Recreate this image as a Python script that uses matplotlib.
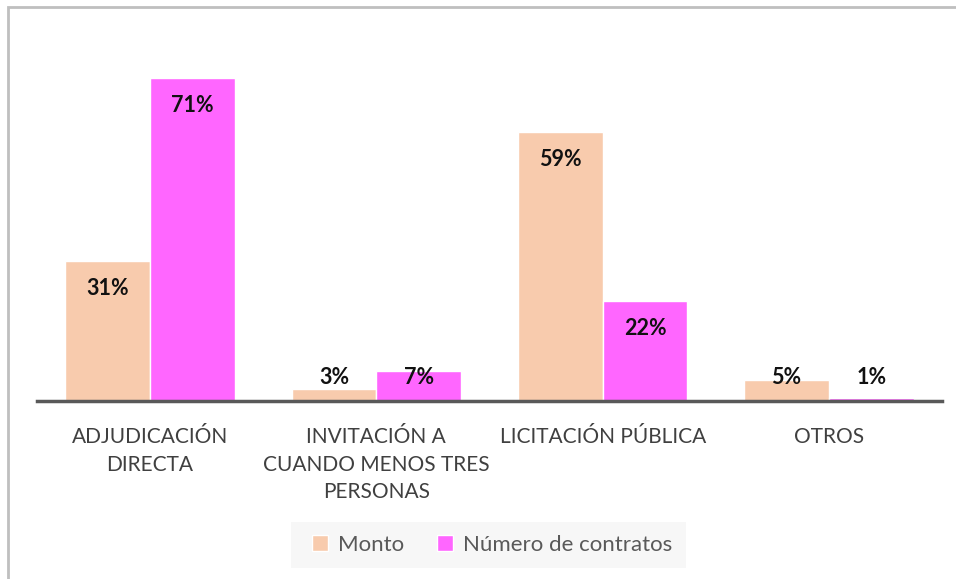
import numpy as np
import matplotlib.pyplot as plt
from matplotlib.patches import Rectangle

plt.rcParams['font.family'] = ['Lato', 'DejaVu Sans']

categorias = ['ADJUDICACIÓN\nDIRECTA', 'INVITACIÓN A\nCUANDO MENOS TRES\nPERSONAS',
              'LICITACIÓN PÚBLICA', 'OTROS']
monto = [30.8, 2.6, 59.1, 4.6]
contratos = [71.0, 6.6, 22.0, 0.7]
series = ['Monto', 'Número de contratos']
colores = ['#F8CBAD', '#FF66FF']

fig = plt.figure(figsize=(9.56, 5.79), dpi=100)
W, H = 956, 579
ax = fig.add_axes([37 / W, 178 / H, (942 - 37) / W, (401 - 37) / H])

x = np.arange(len(categorias))
w = 0.375
for i, (vals, col, lab) in enumerate(zip([monto, contratos], colores, series)):
    pos = x + (i - 0.5) * w
    ax.bar(pos, vals, w, color=col, edgecolor='white', linewidth=1, label=lab, zorder=2)
    for p, v in zip(pos, vals):
        ty = max(v - 6.0, 5.1)
        ax.text(p, ty, f'{round(v)}%', ha='center', va='center',
                fontsize=15.5, fontweight='bold', color='#111111', zorder=3)

ax.set_xlim(-0.5, 3.5)
ax.set_ylim(0, 80)
ax.set_yticks([])
ax.set_xticks(x)
ax.set_xticklabels(categorias, fontsize=15, color='#404040', linespacing=1.45)
ax.tick_params(axis='x', length=0, pad=19)
for s in ['top', 'right', 'left']:
    ax.spines[s].set_visible(False)
ax.spines['bottom'].set_color('#595959')
ax.spines['bottom'].set_linewidth(2.5)

# fondo gris claro de la leyenda
fig.patches.append(Rectangle((291 / W, 1 - 568 / H), 395 / W, 46 / H, transform=fig.transFigure,
                             facecolor='#F7F7F7', edgecolor='none', zorder=0))
leg = fig.legend(loc='center', bbox_to_anchor=(492 / W, 1 - 545 / H), ncol=2,
                 frameon=False, fontsize=16, handlelength=0.7, handleheight=0.7,
                 handletextpad=0.45, columnspacing=1.5)
for t in leg.get_texts():
    t.set_color('#595959')

# marco exterior gris
fig.patches.append(Rectangle((8 / W, -0.1), 1.2, 1 - 7 / H + 0.1, transform=fig.transFigure,
                             fill=False, edgecolor='#BFBFBF', linewidth=2))

fig.savefig('out.png', dpi=100)
